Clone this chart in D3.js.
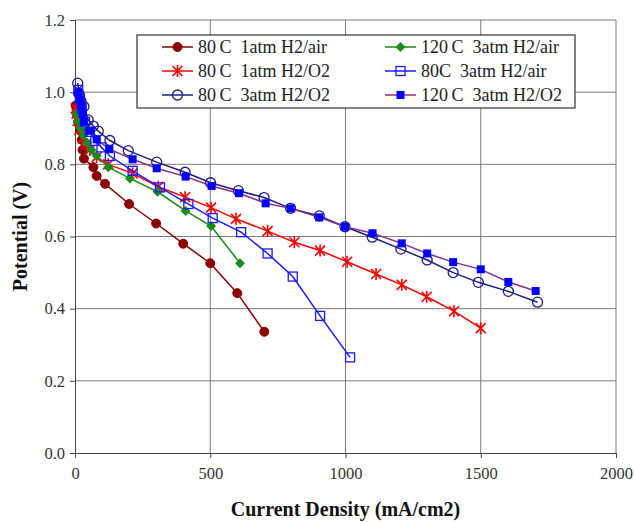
<!DOCTYPE html>
<html>
<head>
<meta charset="utf-8">
<script src="https://cdn.jsdelivr.net/npm/d3@7"></script>
<style>
  body { margin: 0; background: #fff; }
  svg text { font-family: "Liberation Serif", "DejaVu Serif", "Times New Roman", serif !important; }
  .grid line { stroke: #7a7a7a; stroke-width: 1; }
  .axis path, .axis line { stroke: #444; }
  .axis text { font-size: 16.5px; fill: #333; }
  .title { font-size: 20px; font-weight: bold; fill: #111; }
  .legend text { font-size: 18px; fill: #222; white-space: pre; }
</style>
</head>
<body>
<div id="chart"></div>
<script>
// x tick labels and y tick labels
var xTicks = [0, 500, 1000, 1500, 2000];
var yTicks = [0, 0.2, 0.4, 0.6, 0.8, 1.0, 1.2];

// 80C 1atm H2/air
var s1x = [2, 6, 12, 18, 25, 28, 33, 68, 80, 111, 200, 300, 400, 500, 600, 700];
var s1y = [0.963, 0.94, 0.918, 0.895, 0.868, 0.84, 0.816, 0.792, 0.768, 0.746, 0.69, 0.636, 0.58, 0.526, 0.443, 0.336];

// 80C 1atm H2/O2
var s2x = [3, 6, 10, 16, 28, 40, 55, 80, 123, 213, 308, 407, 503, 595, 712, 811, 906, 1006, 1113, 1208, 1300, 1401, 1500];
var s2y = [0.955, 0.94, 0.92, 0.895, 0.872, 0.855, 0.84, 0.82, 0.80, 0.775, 0.738, 0.709, 0.68, 0.649, 0.615, 0.584, 0.561, 0.53, 0.496, 0.466, 0.433, 0.393, 0.346];

// 80C 3atm H2/O2
var s3x = [10, 15, 22, 33, 49, 68, 86, 129, 197, 302, 407, 501, 604, 699, 797, 903, 998, 1099, 1205, 1302, 1398, 1491, 1602, 1710];
var s3y = [1.025, 0.995, 0.975, 0.96, 0.923, 0.906, 0.892, 0.866, 0.838, 0.806, 0.778, 0.749, 0.727, 0.708, 0.678, 0.657, 0.627, 0.598, 0.565, 0.535, 0.50, 0.473, 0.448, 0.418];

// 120C 3atm H2/air
var s4x = [5, 10, 20, 30, 45, 61, 80, 123, 203, 305, 409, 503, 610];
var s4y = [0.94, 0.92, 0.9, 0.88, 0.86, 0.84, 0.824, 0.792, 0.761, 0.724, 0.671, 0.629, 0.526];

// 80C 3atm H2/air
var s5x = [12, 18, 25, 37, 55, 75, 98, 129, 213, 314, 419, 509, 614, 712, 805, 906, 1017];
var s5y = [1.006, 0.982, 0.955, 0.918, 0.89, 0.865, 0.847, 0.823, 0.782, 0.736, 0.69, 0.651, 0.612, 0.553, 0.489, 0.38, 0.265];

// 120C 3atm H2/O2
var s6x = [12, 18, 25, 28, 33, 55, 80, 127, 213, 302, 409, 505, 606, 705, 797, 903, 998, 1100, 1208, 1302, 1398, 1500, 1602, 1703];
var s6y = [1.0, 0.98, 0.96, 0.94, 0.918, 0.893, 0.869, 0.842, 0.814, 0.789, 0.766, 0.74, 0.72, 0.692, 0.678, 0.653, 0.627, 0.609, 0.581, 0.553, 0.529, 0.509, 0.474, 0.449];

var seriesNames = ["80\u2009C  1atm H2/air", "80\u2009C  1atm H2/O2", "80\u2009C  3atm H2/O2",
                   "120\u2009C  3atm H2/air", "80C  3atm H2/air", "120\u2009C  3atm H2/O2"];

function zip(xs, ys) { return xs.map(function(v, i) { return { x: v, y: ys[i] }; }); }

var series = [
  { name: seriesNames[0], data: zip(s1x, s1y), line: "#8b0000", mark: "fcircle", fill: "#8b0000", stroke: "#8b0000" },
  { name: seriesNames[1], data: zip(s2x, s2y), line: "#ff0000", mark: "star", fill: "none", stroke: "#ff0000" },
  { name: seriesNames[2], data: zip(s3x, s3y), line: "#1c1c80", mark: "ocircle", fill: "none", stroke: "#1c1c80" },
  { name: seriesNames[3], data: zip(s4x, s4y), line: "#1a8a1a", mark: "diamond", fill: "#1a8a1a", stroke: "#1a8a1a" },
  { name: seriesNames[4], data: zip(s5x, s5y), line: "#1a1aff", mark: "osquare", fill: "none", stroke: "#1a1aff" },
  { name: seriesNames[5], data: zip(s6x, s6y), line: "#8a2d8a", mark: "fsquare", fill: "#0000ff", stroke: "#0000ff" }
];

var W = 635, H = 522;
var margin = { left: 75, right: 19, top: 20, bottom: 69 };
var width = W - margin.left - margin.right;
var height = H - margin.top - margin.bottom;

var svg = d3.select("#chart").append("svg")
  .attr("width", W).attr("height", H)
  .append("g")
  .attr("transform", "translate(" + margin.left + "," + margin.top + ")");

var x = d3.scaleLinear().domain([0, 2000]).range([0, width]);
var y = d3.scaleLinear().domain([0, 1.2]).range([height, 0]);

// gridlines
var grid = svg.append("g").attr("class", "grid");
grid.selectAll(".hg").data(yTicks.slice(1)).enter().append("line")
  .attr("x1", 0).attr("x2", width)
  .attr("y1", function(d) { return y(d); }).attr("y2", function(d) { return y(d); });
grid.selectAll(".vg").data(xTicks.slice(1)).enter().append("line")
  .attr("y1", 0).attr("y2", height)
  .attr("x1", function(d) { return x(d); }).attr("x2", function(d) { return x(d); });

// axes
svg.append("g").attr("class", "axis")
  .attr("transform", "translate(0," + height + ")")
  .call(d3.axisBottom(x).tickValues(xTicks).tickSize(5).tickPadding(9).tickFormat(d3.format("d")))
  .attr("font-family", null);
svg.append("g").attr("class", "axis")
  .call(d3.axisLeft(y).tickValues(yTicks).tickSize(5).tickPadding(5).tickFormat(d3.format(".1f")))
  .attr("font-family", null);

// axis titles
svg.append("text").attr("class", "title")
  .attr("x", width / 2).attr("y", height + 63)
  .attr("text-anchor", "middle")
  .text("Current Density (mA/cm2)");
svg.append("text").attr("class", "title")
  .attr("transform", "translate(" + (-48) + "," + (height / 2) + ") rotate(-90)")
  .attr("text-anchor", "middle")
  .text("Potential (V)");

// marker drawing
function drawMarker(g, type, fill, stroke) {
  if (type === "fcircle") {
    g.append("circle").attr("r", 4.5).attr("fill", fill).attr("stroke", stroke);
  } else if (type === "ocircle") {
    g.append("circle").attr("r", 5).attr("fill", "none").attr("stroke", stroke).attr("stroke-width", 1.3);
  } else if (type === "diamond") {
    g.append("path").attr("d", "M0,-5L5,0L0,5L-5,0Z").attr("fill", fill);
  } else if (type === "osquare") {
    g.append("rect").attr("x", -4.5).attr("y", -4.5).attr("width", 9).attr("height", 9)
      .attr("fill", "none").attr("stroke", stroke).attr("stroke-width", 1.3);
  } else if (type === "fsquare") {
    g.append("rect").attr("x", -4).attr("y", -4).attr("width", 8).attr("height", 8).attr("fill", fill);
  } else if (type === "star") {
    g.append("path").attr("d", "M-5,-5L5,5M-5,5L5,-5M0,-6L0,6")
      .attr("stroke", stroke).attr("stroke-width", 1.6).attr("fill", "none");
  }
}

var line = d3.line().x(function(d) { return x(d.x); }).y(function(d) { return y(d.y); });

series.forEach(function(s) {
  var g = svg.append("g");
  g.append("path").datum(s.data)
    .attr("d", line).attr("fill", "none")
    .attr("stroke", s.line).attr("stroke-width", 1.5);
  g.selectAll("g.pt").data(s.data).enter().append("g")
    .attr("class", "pt")
    .attr("transform", function(d) { return "translate(" + x(d.x) + "," + y(d.y) + ")"; })
    .each(function() { drawMarker(d3.select(this), s.mark, s.fill, s.stroke); });
});

// legend
var legend = svg.append("g").attr("class", "legend")
  .attr("transform", "translate(" + (137 - margin.left) + "," + (35 - margin.top) + ")");
legend.append("rect").attr("width", 438).attr("height", 73)
  .attr("fill", "#fff").attr("stroke", "#333").attr("stroke-width", 1.2);

var legendOrder = [0, 3, 1, 4, 2, 5];
legendOrder.forEach(function(idx, k) {
  var s = series[idx];
  var col = k % 2, row = Math.floor(k / 2);
  var lx = col === 0 ? 25 : 248;
  var ly = 12 + row * 24;
  var item = legend.append("g").attr("transform", "translate(" + lx + "," + ly + ")");
  item.append("line").attr("x1", 0).attr("x2", 31).attr("y1", 0).attr("y2", 0)
    .attr("stroke", s.line).attr("stroke-width", 1.5);
  var m = item.append("g").attr("transform", "translate(15.5,0)");
  drawMarker(m, s.mark, s.fill, s.stroke);
  item.append("text").attr("x", 36).attr("y", 6).text(s.name);
});
</script>
</body>
</html>
